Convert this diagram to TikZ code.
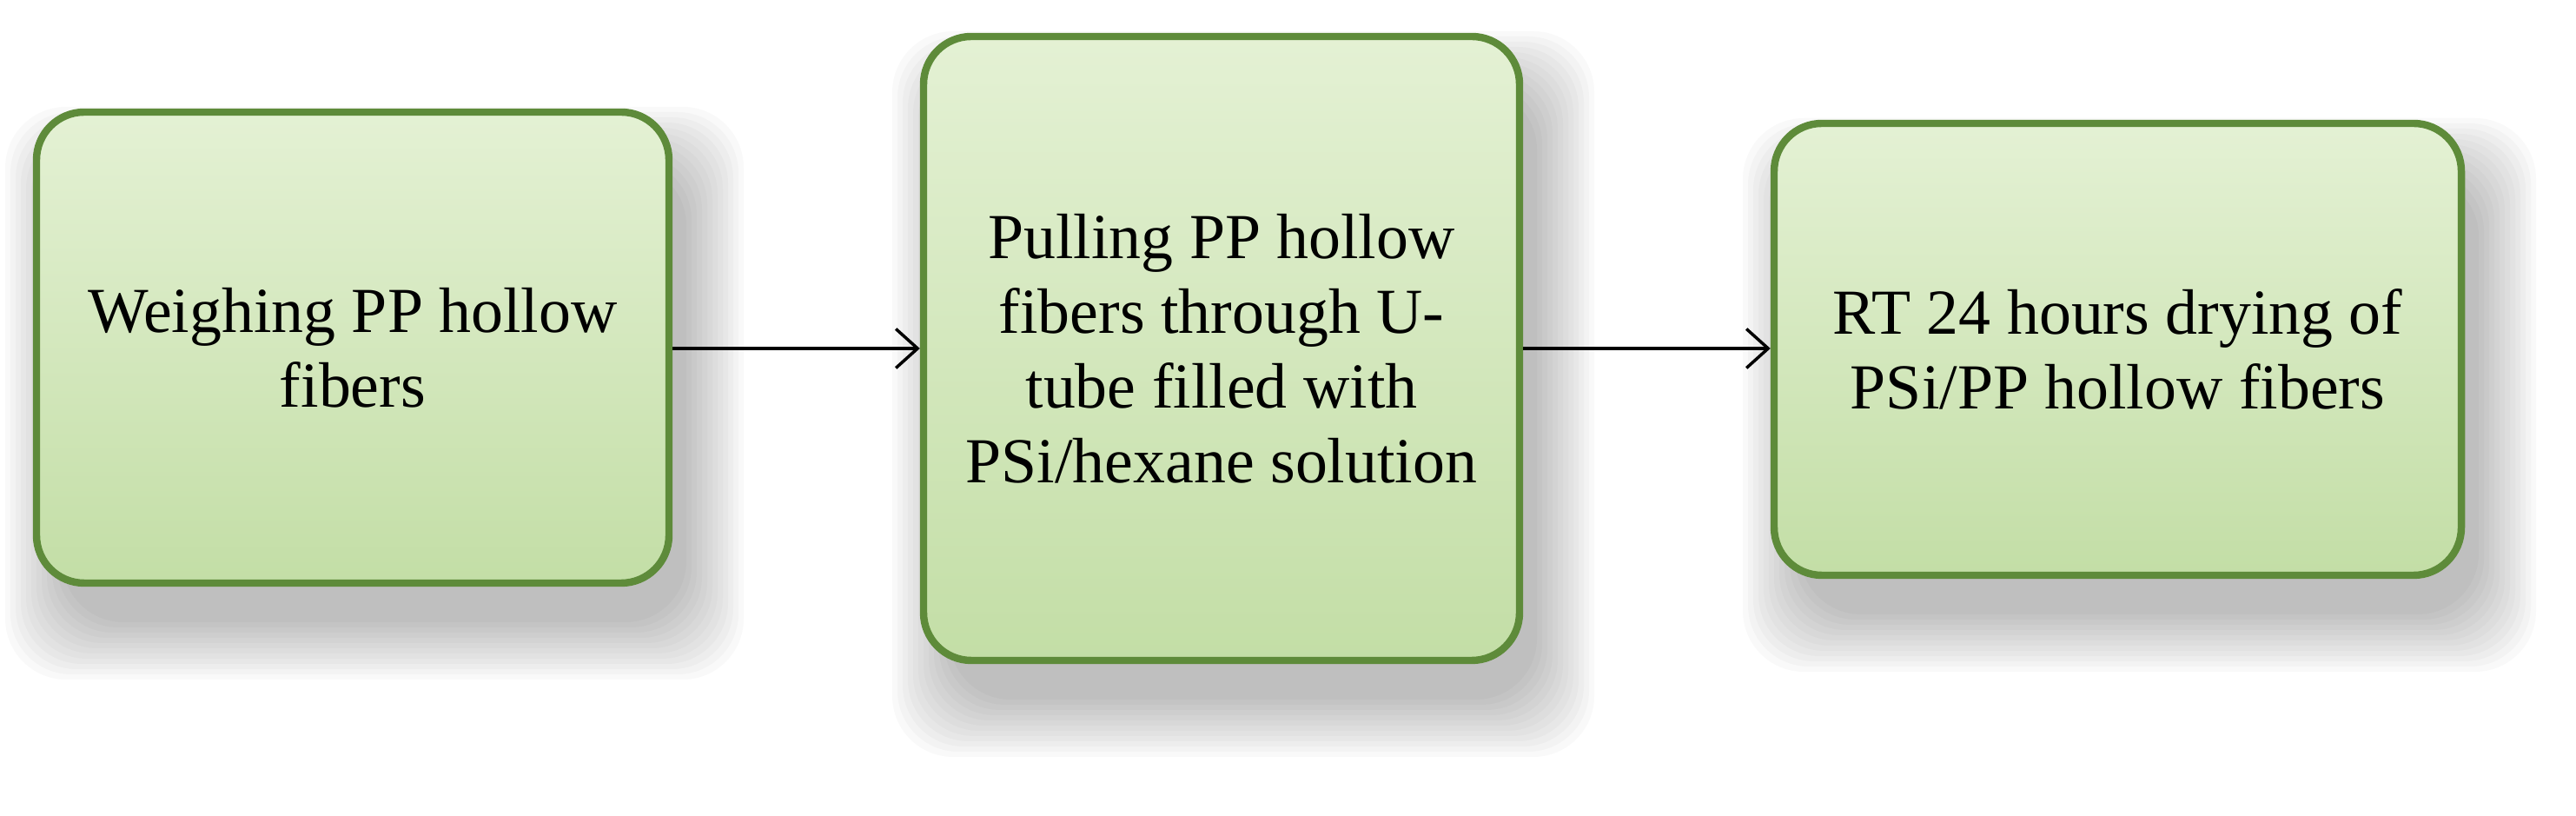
\documentclass[tikz,border=0pt]{standalone}
\usepackage{fontspec}
\setmainfont{Liberation Serif}
\usetikzlibrary{arrows.meta,shadows}
\definecolor{bord}{HTML}{5E8B3A}
\definecolor{ftop}{HTML}{E4F1D4}
\definecolor{fbot}{HTML}{C3DEA6}
\tikzset{
  stepbox/.style={draw=bord,line width=2.4pt,rounded corners=0.55cm,
    top color=ftop,bottom color=fbot,
    font=\fontsize{21}{24.5}\selectfont,align=center,inner sep=0pt},
  conn/.style={-{Straight Barb[length=0.25cm,width=0.45cm]},line width=1pt,black}
}
\newcommand{\softshadow}[4]{%
  \foreach \k in {0,...,11}{
    \fill[black,opacity=0.025,rounded corners=0.7cm]
      ({#1+0.3-0.06*\k},{#2-0.45-0.06*\k}) rectangle ({#3+0.2+0.06*\k},{#4-0.6+0.06*\k});
  }}
\begin{document}
\begin{tikzpicture}
\useasboundingbox (0,0) rectangle (29.65,9.39);
\softshadow{0.42}{2.68}{7.70}{8.10}
\softshadow{10.63}{1.79}{17.49}{8.97}
\softshadow{20.42}{2.77}{28.33}{7.97}
\node[stepbox,minimum width=7.28cm,minimum height=5.42cm] (a) at (4.06,5.39)
  {Weighing PP hollow\\fibers};
\node[stepbox,minimum width=6.86cm,minimum height=7.18cm] (b) at (14.06,5.38)
  {Pulling PP hollow\\fibers through U-\\tube filled with\\PSi/hexane solution};
\node[stepbox,minimum width=7.91cm,minimum height=5.20cm] (c) at (24.375,5.37)
  {RT 24 hours drying of\\PSi/PP hollow fibers};
\draw[conn] (a.east |- 0,5.38) -- (b.west |- 0,5.38);
\draw[conn] (b.east |- 0,5.38) -- (c.west |- 0,5.38);
\end{tikzpicture}
\end{document}
